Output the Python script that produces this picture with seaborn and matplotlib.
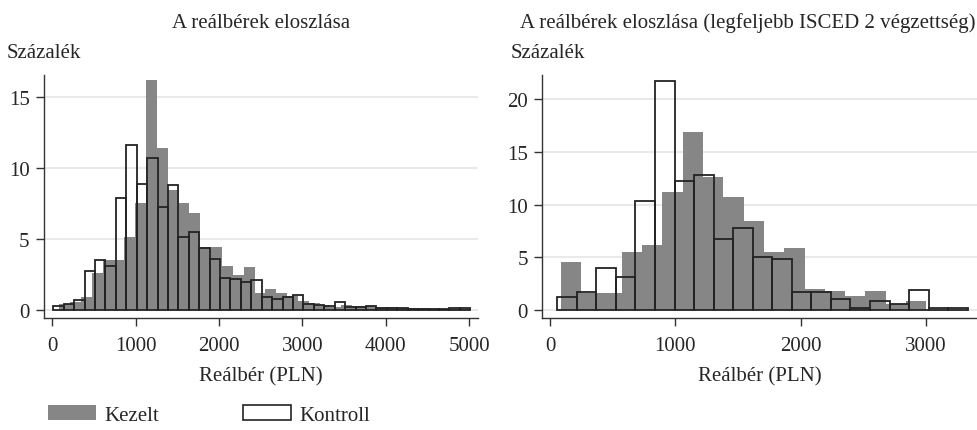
import numpy as np
import pandas as pd
import matplotlib
matplotlib.use("Agg")
import matplotlib.pyplot as plt
import seaborn as sns
from matplotlib.patches import Patch

# --- data (percent per bin) ---
# left panel: all workers
left_treated_start, left_treated_width = 85, 130
left_treated = [0.38, 0.57, 0.87, 2.6, 3.5, 3.5, 5.1, 7.5, 16.2, 11.4,
                8.4, 7.5, 6.8, 4.4, 4.4, 3.1, 2.45, 3.0, 1.2, 1.46,
                1.18, 0.94, 0.59, 0.45, 0.3, 0.2, 0.33, 0.26, 0.26, 0.19,
                0.17, 0.14, 0.09, 0.09, 0.05, 0.05, 0.07, 0.07]
left_control_start, left_control_width = 12, 125
left_control = [0.24, 0.38, 0.66, 2.76, 3.5, 3.1, 7.85, 11.6, 8.87, 10.7,
                7.2, 8.75, 5.14, 5.45, 4.36, 3.56, 2.26, 2.17, 1.93, 2.08,
                0.9, 0.75, 0.87, 1.06, 0.38, 0.35, 0.26, 0.52, 0.21, 0.17,
                0.24, 0.14, 0.12, 0.14, 0.07, 0.05, 0.02, 0.02, 0.09, 0.09]

# right panel: at most ISCED 2
right_treated_start, right_treated_width = 88, 162
right_treated = [4.55, 1.6, 1.6, 5.5, 6.2, 11.2, 16.9, 12.6, 10.7, 8.44,
                 5.5, 5.85, 2.0, 1.8, 1.3, 1.8, 0.54, 0.85]
right_control_start, right_control_width = 58, 156
right_control = [1.23, 1.67, 3.98, 3.13, 10.3, 21.7, 12.2, 12.8, 6.73, 7.74,
                 5.02, 4.83, 1.67, 1.67, 1.04, 0.22, 0.85, 0.6, 1.9, 0.22, 0.22]

titles = ["A reálbérek eloszlása",
          "A reálbérek eloszlása (legfeljebb ISCED 2 végzettség)"]
ylabel = "Százalék"
xlabel = "Reálbér (PLN)"
legend_labels = ["Kezelt", "Kontroll"]
left_xticks = [0, 1000, 2000, 3000, 4000, 5000]
left_yticks = [0, 5, 10, 15]
right_xticks = [0, 1000, 2000, 3000]
right_yticks = [0, 5, 10, 15, 20]

GRAY = "#868686"
EDGE = "#232323"
FS = 15

sns.set_theme(style="white")
plt.rcParams["font.family"] = ["Liberation Serif", "DejaVu Serif"]
plt.rcParams["font.size"] = FS


def bins_df(start, width, vals):
    edges = start + width * np.arange(len(vals) + 1)
    df = pd.DataFrame({"mid": (edges[:-1] + edges[1:]) / 2, "pct": vals})
    return df, list(edges)


def panel(ax, treated, t_start, t_width, control, c_start, c_width,
          xticks, yticks, xlim, ylim):
    df, e = bins_df(t_start, t_width, treated)
    sns.histplot(data=df, x="mid", weights="pct", bins=e, ax=ax, color=GRAY,
                 alpha=1, linewidth=0, edgecolor=GRAY, zorder=2)
    df, e = bins_df(c_start, c_width, control)
    sns.histplot(data=df, x="mid", weights="pct", bins=e, ax=ax, fill=False,
                 color=EDGE, linewidth=1.3, zorder=3)
    ax.set_xlim(*xlim)
    ax.set_ylim(*ylim)
    ax.set_xticks(xticks)
    ax.set_yticks(yticks)
    ax.set_ylabel("")
    ax.set_xlabel(xlabel, fontsize=FS, labelpad=8)
    ax.grid(axis="y", color="#e3e3e3", linewidth=1.1, zorder=0)
    ax.set_axisbelow(True)
    for s in ["top", "right"]:
        ax.spines[s].set_visible(False)
    for s in ["left", "bottom"]:
        ax.spines[s].set_color("#333333")
        ax.spines[s].set_linewidth(1.0)
    ax.tick_params(axis="both", direction="out", length=5.5, width=1,
                   color="#333333", labelsize=FS, left=True, bottom=True)
    ax.tick_params(axis="x", pad=8)
    ax.tick_params(axis="y", pad=5)


fig = plt.figure(figsize=(9.77, 4.31), dpi=100)
ax1 = fig.add_axes([0.0453, 0.2606, 0.4439, 0.5631])
ax2 = fig.add_axes([0.5551, 0.2606, 0.4449, 0.5631])

panel(ax1, left_treated, left_treated_start, left_treated_width,
      left_control, left_control_start, left_control_width,
      left_xticks, left_yticks, (-96, 5104), (-0.56, 16.53))
panel(ax2, right_treated, right_treated_start, right_treated_width,
      right_control, right_control_start, right_control_width,
      right_xticks, right_yticks, (-61, 3408), (-0.73, 22.3))

fig.text(261 / 977, 1 - 23 / 431, titles[0], ha="center", va="center", fontsize=FS)
fig.text(976 / 977, 1 - 23 / 431, titles[1], ha="right", va="center", fontsize=FS)
fig.text(7 / 977, 1 - 53 / 431, ylabel, ha="left", va="center", fontsize=FS)
fig.text(511 / 977, 1 - 53 / 431, ylabel, ha="left", va="center", fontsize=FS)

handles = [Patch(facecolor=GRAY, edgecolor=GRAY, linewidth=0),
           Patch(facecolor="white", edgecolor=EDGE, linewidth=1.2)]
fig.legend(handles, legend_labels, loc="center left",
           bbox_to_anchor=(40 / 977, 1 - 416 / 431), ncol=2, frameon=False,
           handlelength=2.3, handleheight=0.75, handletextpad=0.4,
           columnspacing=4.0, fontsize=FS, borderaxespad=0)

fig.savefig("out.png", dpi=100)
